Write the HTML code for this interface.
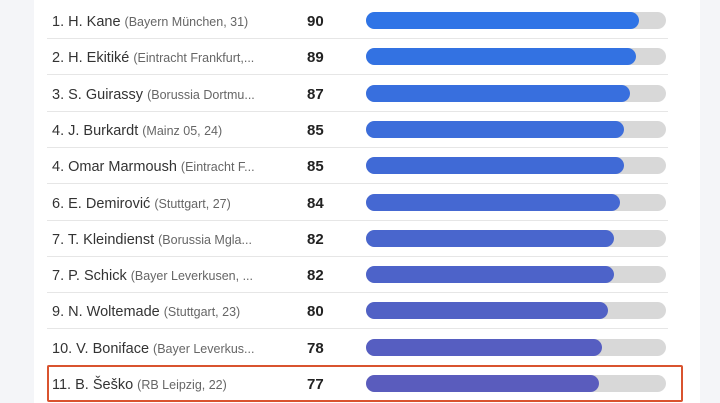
<!DOCTYPE html><html><head><style>
body{margin:0;width:720px;height:403px;background:#f4f5f8;font-family:"Liberation Sans",sans-serif;position:relative;overflow:hidden}
.card{position:absolute;left:34px;top:0;width:666px;height:403px;background:#fff}
.row{position:absolute;left:47px;width:621px;height:36px;border-bottom:1px solid #e6e6e6}
.name{position:absolute;left:5px;top:2px;line-height:36px;font-size:14.5px;color:#333;white-space:nowrap}
.name span{font-size:12.5px;color:#666}
.val{position:absolute;left:260px;top:2px;line-height:36px;font-size:15px;font-weight:bold;color:#222}
.track{position:absolute;left:319px;top:10px;width:300px;height:17px;border-radius:9px;background:#d8d8d8}
.fill{position:absolute;left:0;top:0;height:17px;border-radius:9px}
.hl{position:absolute;left:47px;top:365px;width:632px;height:33px;border:2px solid #d9532f;border-radius:2px}
</style></head><body><div class="card"></div>
<div id="r"></div>
<div class="hl"></div>
<script>
var d=[["1. H. Kane","(Bayern München, 31)",90],["2. H. Ekitiké","(Eintracht Frankfurt,...",89],["3. S. Guirassy","(Borussia Dortmu...",87],["4. J. Burkardt","(Mainz 05, 24)",85],["4. Omar Marmoush","(Eintracht F...",85],["6. E. Demirović","(Stuttgart, 27)",84],["7. T. Kleindienst","(Borussia Mgla...",82],["7. P. Schick","(Bayer Leverkusen, ...",82],["9. N. Woltemade","(Stuttgart, 23)",80],["10. V. Boniface","(Bayer Leverkus...",78],["11. B. Šeško","(RB Leipzig, 22)",77]];
var h="";d.forEach(function(x,i){var t=i/10;var c="rgb("+Math.round(47+(90-47)*t)+","+Math.round(116+(92-116)*t)+","+Math.round(230+(189-230)*t)+")";
var top=Math.round(2+i*36.3);var w=(x[2]-90)*3.1+273;
h+='<div class="row" style="top:'+top+'px;'+(i==10?'border:none':'')+'"><div class="name">'+x[0]+' <span>'+x[1]+'</span></div><div class="val">'+x[2]+'</div><div class="track"><div class="fill" style="width:'+w+'px;background:'+c+'"></div></div></div>';});
document.getElementById("r").innerHTML=h;
</script></body></html>
